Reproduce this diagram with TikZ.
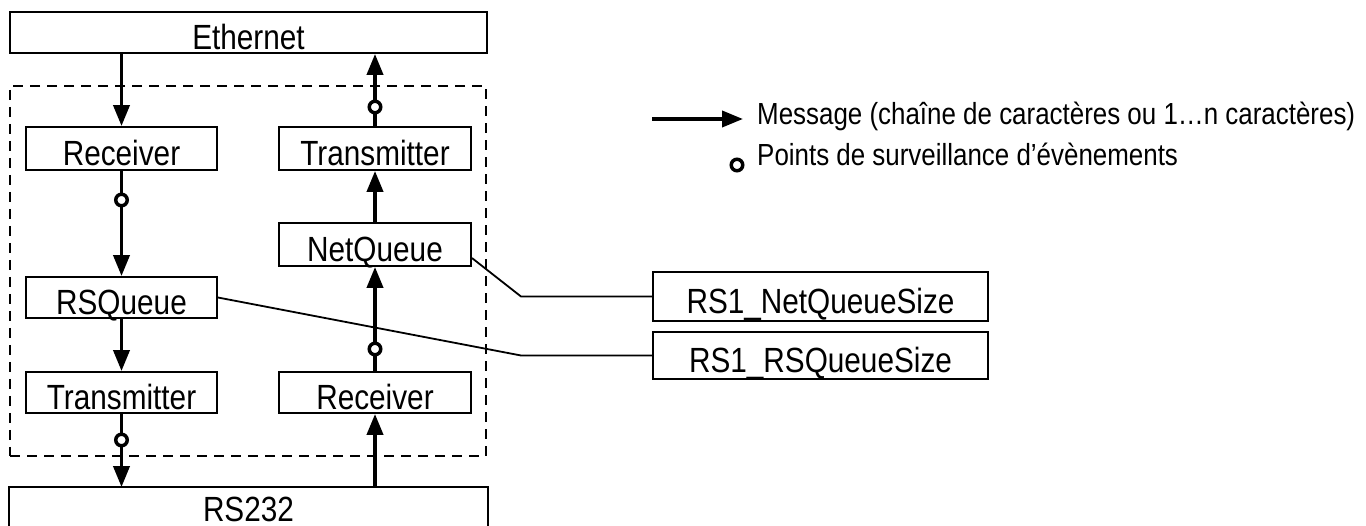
\documentclass[tikz,border=0pt]{standalone}
\usepackage{fontspec}
\setmainfont{Liberation Sans}[FakeStretch=0.85]
\usetikzlibrary{arrows.meta}
\begin{document}
\begin{tikzpicture}[x=1pt,y=-1pt,
  box/.style={draw,line width=1.8pt,rectangle,inner sep=0pt,text height=34pt,text depth=0pt,font=\fontsize{35}{40}\selectfont},
  msg/.style={line width=3.8pt,-{Triangle[length=21pt,width=16pt]}},
  evt/.style={circle,draw,fill=white,line width=3.5pt,minimum size=11.5pt,inner sep=0pt},
  link/.style={line width=1.8pt},
  frame/.style={draw,line width=1.8pt,dash pattern=on 10pt off 7pt,inner sep=0pt},
  legend/.style={anchor=base west,inner sep=0pt,font=\fontsize{30.5}{34}\selectfont}]
\useasboundingbox[fill=white] (0,0) rectangle (1366,526);

% dashed frame
\node[frame,minimum width=476pt,minimum height=370pt] (core) at (248,271) {};

% boxes
\node[box,minimum width=477pt,minimum height=41pt] (eth) at (248.5,32.5) {Ethernet};
\node[box,minimum width=191pt,minimum height=43pt] (lrecv) at (121.5,148.5) {Receiver};
\node[box,minimum width=192pt,minimum height=43pt] (rtran) at (375,148.5) {Transmitter};
\node[box,minimum width=192pt,minimum height=43pt] (nq) at (375,244.5) {NetQueue};
\node[box,minimum width=191pt,minimum height=41pt] (rsq) at (121.5,297.5) {RSQueue};
\node[box,minimum width=191pt,minimum height=41pt] (ltran) at (121.5,392.5) {Transmitter};
\node[box,minimum width=192pt,minimum height=41pt] (rrecv) at (375,392.5) {Receiver};
\node[box,draw=none,minimum width=477pt,minimum height=37pt,text height=30pt] (rs) at (248.5,506.5) {RS232};
\draw[line width=1.8pt] ([yshift=-4pt]rs.south west) -- (rs.north west) -- (rs.north east) -- ([yshift=-4pt]rs.south east);
\node[box,minimum width=335pt,minimum height=49pt] (nqs) at (820.5,296.5) {RS1\_NetQueueSize};
\node[box,minimum width=335pt,minimum height=47pt] (rsqs) at (820.5,355.5) {RS1\_RSQueueSize};

% links to the size variables
\coordinate (kx) at (521,0);
\draw[link] ([yshift=-13.5pt]nq.east) -- (kx |- nqs.west) -- (nqs.west);
\draw[link] (rsq.east) -- (kx |- rsqs.west) -- (rsqs.west);

% message flow
\draw[msg] (eth.south -| lrecv) -- (lrecv.north);
\draw[msg] (lrecv) -- (rsq);
\draw[msg] (rsq) -- (ltran);
\draw[msg] (ltran.south) -- (ltran.south |- rs.north);
\draw[msg] (rs.north -| rrecv) -- (rrecv.south);
\draw[msg] (rrecv) -- (nq);
\draw[msg] (nq) -- (rtran);
\draw[msg] (rtran.north) -- (rtran.north |- eth.south);

% event monitoring points
\node[evt] (e1) at (375,107) {};
\node[evt] (e2) at (121.5,200) {};
\node[evt] (e3) at (375,349) {};
\node[evt] (e4) at (121.5,440) {};

% legend
\coordinate (la) at (652,119);
\coordinate (lb) at (743,119);
\draw[msg] (la) -- (lb);
\node[legend] (lt1) at (757,125) {Message (chaîne de caractères ou 1…n caractères)};
\node[evt] (lc) at (737,165) {};
\node[legend] (lt2) at (757,166) {Points de surveillance d’évènements};
\end{tikzpicture}
\end{document}
